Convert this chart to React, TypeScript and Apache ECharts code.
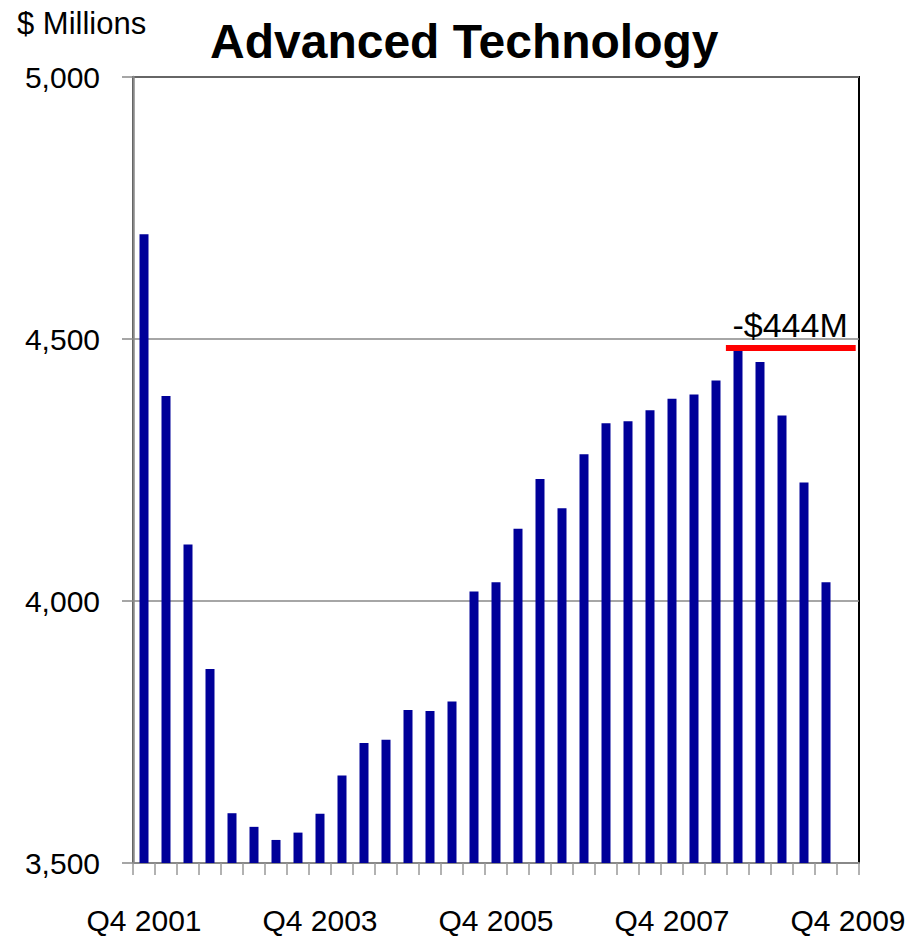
import React, { useEffect, useRef } from "react";
import * as echarts from "echarts";

const categories: string[] = [
  "Q4 2001", "Q1 2002", "Q2 2002", "Q3 2002", "Q4 2002",
  "Q1 2003", "Q2 2003", "Q3 2003", "Q4 2003",
  "Q1 2004", "Q2 2004", "Q3 2004", "Q4 2004",
  "Q1 2005", "Q2 2005", "Q3 2005", "Q4 2005",
  "Q1 2006", "Q2 2006", "Q3 2006", "Q4 2006",
  "Q1 2007", "Q2 2007", "Q3 2007", "Q4 2007",
  "Q1 2008", "Q2 2008", "Q3 2008", "Q4 2008",
  "Q1 2009", "Q2 2009", "Q3 2009", "Q4 2009",
];

const values: (number | null)[] = [
  4700, 4391, 4108, 3870, 3595,
  3569, 3544, 3558, 3594,
  3667, 3729, 3735, 3792,
  3790, 3808, 4018, 4036,
  4138, 4233, 4177, 4280,
  4339, 4343, 4364, 4386,
  4394, 4421, 4480, 4456,
  4354, 4226, 4036, null,
];

const yTicks = { min: 3500, max: 5000, interval: 500 };

// gap marker: level and horizontal extent in category units
const gapLevel = 4483;
const gapStart = 26.95;
const gapEnd = 32.85;

const peakValue = 4480;
const lastValue = 4036;
const gapLabel = `-$${peakValue - lastValue}M`;

const SANS = '"Liberation Sans", Arial, sans-serif';

export default function App() {
  const ref = useRef<HTMLDivElement>(null);

  useEffect(() => {
    document.body.style.margin = "0";
    const chart = echarts.init(ref.current!, undefined, { renderer: "svg" });
    chart.setOption({
      animation: false,
      backgroundColor: "#ffffff",
      grid: {
        left: 133,
        right: 59,
        top: 77,
        bottom: 73,
        show: true,
        borderColor: "#000000",
        borderWidth: 2,
        backgroundColor: "transparent",
      },
      graphic: [
        {
          type: "text",
          left: 210,
          top: 17,
          style: {
            text: "Advanced Technology",
            fontFamily: SANS,
            fontWeight: "bold",
            fontSize: 48,
            fill: "#000",
          },
        },
        {
          type: "text",
          x: 17,
          y: 23,
          style: {
            text: "$ Millions",
            fontFamily: SANS,
            fontSize: 31,
            fill: "#000",
            verticalAlign: "middle",
            align: "left",
          },
        },
      ],
      xAxis: [
        {
          type: "category",
          data: categories,
          boundaryGap: true,
          axisLine: { show: true, lineStyle: { color: "#888", width: 2 } },
          axisTick: {
            show: true,
            interval: 0,
            length: 12,
            lineStyle: { color: "#999", width: 1.5 },
          },
          axisLabel: {
            interval: 7,
            margin: 42,
            fontFamily: SANS,
            fontSize: 30,
            color: "#000",
          },
          splitLine: { show: false },
        },
        {
          type: "value",
          min: 0,
          max: categories.length,
          show: false,
        },
      ],
      yAxis: {
        type: "value",
        min: yTicks.min,
        max: yTicks.max,
        interval: yTicks.interval,
        axisLine: { show: true, lineStyle: { color: "#888", width: 2.5 } },
        axisTick: { show: true, length: 11, lineStyle: { color: "#888", width: 1.5 } },
        axisLabel: {
          margin: 33,
          fontFamily: SANS,
          fontSize: 30,
          color: "#000",
          formatter: (v: number) => v.toLocaleString("en-US"),
        },
        splitLine: { show: true, lineStyle: { color: "#888", width: 1.5 } },
      },
      series: [
        {
          type: "bar",
          data: values,
          barWidth: 9,
          itemStyle: { color: "#000099" },
          z: 2,
        },
        {
          type: "line",
          xAxisIndex: 1,
          data: [
            [gapStart, gapLevel],
            [gapEnd, gapLevel],
          ],
          symbol: "none",
          showSymbol: false,
          lineStyle: { color: "#ff0000", width: 6, cap: "butt" },
          z: 5,
          markPoint: {
            symbol: "circle",
            symbolSize: 0,
            silent: true,
            data: [
              {
                coord: [gapEnd, gapLevel],
                label: {
                  show: true,
                  formatter: gapLabel,
                  position: "left",
                  distance: 0,
                  offset: [-8, -23],
                  fontFamily: SANS,
                  fontSize: 34,
                  color: "#000",
                },
              },
            ],
          },
        },
      ],
    });
    return () => chart.dispose();
  }, []);

  return (
    <div
      ref={ref}
      style={{ position: "fixed", left: 0, top: 0, width: 918, height: 936 }}
    />
  );
}
